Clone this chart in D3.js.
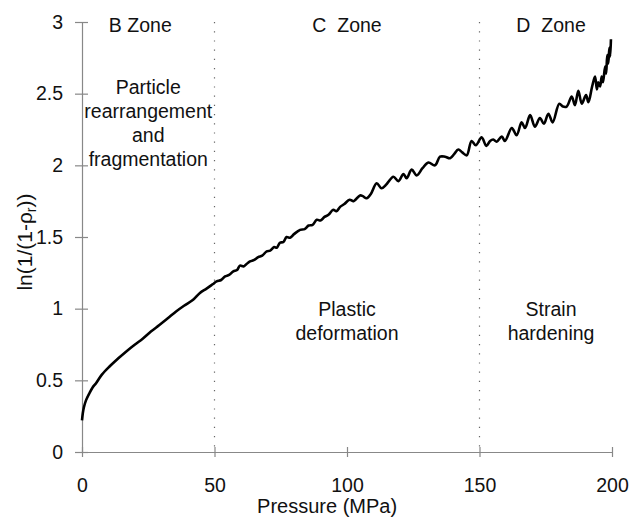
<!DOCTYPE html>
<html>
<head>
  <meta charset='utf-8'>
  <script src="https://d3js.org/d3.v7.min.js"></script>
  <style>
    body { margin: 0; background: #fff; }
    text { font-family: "Liberation Sans", Arial, sans-serif; }
  </style>
</head>
<body>
  <script type='text/javascript'>
    // Compaction curve
    var pressure = [0, 0.3, 0.7, 1.5, 2.8, 4, 5.3, 7.5, 10.3, 13.5, 16.6, 20, 22.9, 26, 29.2, 32.5, 35.5, 38.5,
      41.8, 44.5, 47, 49.3, 50.8, 52.5, 54, 55.5, 57.1, 58.5, 59.6, 61, 62, 63.4, 65, 66.5, 68, 69.7, 71,
      72.5, 73.5, 74.7, 76, 77.2, 78.5, 80, 82.3, 84, 85.5, 87, 88.6, 90, 91.5, 93, 94.8, 96, 97.4, 99,
      101, 102.5, 104.9, 106, 107.4, 109, 111.2, 113, 115, 117.5, 119.4, 121.3, 122.5, 124.4, 126.3,
      128.5, 130.7, 133.2, 135.1, 137, 138.9, 140.5, 142, 143.5, 145.2, 147, 148.6, 150.8, 152.6, 154,
      155.2, 156.5, 158.4, 159.6, 162.2, 164, 165.9, 167.2, 169.1, 170.9, 172.8, 174.3, 176, 177.6,
      180.1, 181.5, 182.9, 184.8, 186, 187.3, 188.6, 190.2, 191.1, 192.5, 193.6, 194.3, 194.8, 195.5,
      196.1, 196.6, 197.4, 197.8, 198.2, 198.6, 199, 199.3, 199.6];
    var lnValue = [0.22, 0.27, 0.31, 0.36, 0.41, 0.45, 0.48, 0.54, 0.595, 0.65, 0.70, 0.75, 0.79, 0.84, 0.886, 0.935, 0.98, 1.02,
      1.06, 1.11, 1.14, 1.17, 1.19, 1.20, 1.225, 1.235, 1.26, 1.27, 1.30, 1.295, 1.31, 1.33, 1.34, 1.36, 1.37, 1.40, 1.405,
      1.43, 1.425, 1.46, 1.465, 1.50, 1.495, 1.52, 1.55, 1.555, 1.58, 1.585, 1.62, 1.615, 1.64, 1.655, 1.69, 1.68, 1.71, 1.73,
      1.76, 1.75, 1.79, 1.785, 1.77, 1.80, 1.875, 1.84, 1.87, 1.92, 1.89, 1.94, 1.91, 1.97, 1.93,
      1.98, 2.02, 2.00, 2.06, 2.06, 2.05, 2.08, 2.11, 2.09, 2.07, 2.17, 2.14, 2.195, 2.135, 2.17,
      2.18, 2.165, 2.20, 2.17, 2.26, 2.21, 2.30, 2.26, 2.35, 2.27, 2.33, 2.29, 2.36, 2.30,
      2.43, 2.41, 2.41, 2.48, 2.42, 2.52, 2.43, 2.49, 2.44, 2.55, 2.62, 2.53, 2.58, 2.55,
      2.62, 2.58, 2.69, 2.64, 2.77, 2.71, 2.82, 2.76, 2.88];

    var xTicks = [0, 50, 100, 150, 200];
    var yTicks = [0, 0.5, 1, 1.5, 2, 2.5, 3];
    var zoneBounds = [50, 150];
    var zoneTitles = [
      {x: 22, label: 'B Zone'},
      {x: 100, label: 'C  Zone'},
      {x: 177, label: 'D  Zone'}
    ];
    var zoneNotes = [
      {x: 25, y: 2.5, lines: ['Particle', 'rearrangement', 'and', 'fragmentation']},
      {x: 100, y: 0.95, lines: ['Plastic', 'deformation']},
      {x: 177, y: 0.95, lines: ['Strain', 'hardening']}
    ];

    var margin = {top: 22, right: 19, bottom: 66, left: 82},
      width = 631 - margin.left - margin.right,
      height = 518 - margin.top - margin.bottom;

    var svg = d3.select('body')
      .append('svg')
      .attr('width', 631)
      .attr('height', 518)
      .append('g')
      .attr('transform', 'translate(' + margin.left + ',' + margin.top + ')');

    var x = d3.scaleLinear().domain([0, 200]).range([0, width]);
    var y = d3.scaleLinear().domain([0, 3]).range([height, 0]);

    // dotted zone separators
    svg.selectAll('.zone-line')
      .data(zoneBounds)
      .enter().append('line')
      .attr('x1', function(d) { return x(d); })
      .attr('x2', function(d) { return x(d); })
      .attr('y1', 0)
      .attr('y2', height)
      .style('stroke', '#666')
      .style('stroke-width', 1.2)
      .style('stroke-dasharray', '1.2,8');

    // y axis
    var yAxis = svg.append('g')
      .call(d3.axisLeft(y).tickValues(yTicks).tickFormat(d3.format('')).tickSizeInner(7).tickSizeOuter(0).tickPadding(12));
    yAxis.selectAll('.tick line').attr('x1', 6);

    // x axis
    var xAxis = svg.append('g')
      .attr('transform', 'translate(0,' + height + ')')
      .call(d3.axisBottom(x).tickValues(xTicks).tickSizeInner(5).tickSizeOuter(0));
    xAxis.selectAll('.tick line').attr('y1', -5);
    xAxis.selectAll('.tick text').attr('y', 39.5).attr('dy', 0);

    svg.selectAll('.domain, .tick line').style('stroke', '#888').style('stroke-width', 1.2);
    svg.selectAll('.tick text').style('font-size', '19.5px').style('fill', '#111')
      .style('font-family', '"Liberation Sans", Arial, sans-serif');

    // curve
    var points = pressure.map(function(p, i) { return [p, lnValue[i]]; });
    svg.append('path')
      .datum(points)
      .attr('d', d3.line().curve(d3.curveCatmullRom.alpha(0.5))
        .x(function(d) { return x(d[0]); }).y(function(d) { return y(d[1]); }))
      .style('fill', 'none')
      .style('stroke', '#000')
      .style('stroke-width', 2.6)
      .style('stroke-linejoin', 'round');

    // zone titles
    svg.selectAll('.zone-title')
      .data(zoneTitles)
      .enter().append('text')
      .attr('x', function(d) { return x(d.x); })
      .attr('y', 10)
      .attr('text-anchor', 'middle')
      .style('font-size', '19.5px')
      .style('white-space', 'pre')
      .style('fill', '#111')
      .text(function(d) { return d.label; });

    // zone notes
    zoneNotes.forEach(function(n) {
      var t = svg.append('text')
        .attr('x', x(n.x))
        .attr('y', y(n.y))
        .attr('text-anchor', 'middle')
        .style('font-size', '19.5px')
        .style('fill', '#111');
      n.lines.forEach(function(line, i) {
        t.append('tspan').attr('x', x(n.x)).attr('dy', i === 0 ? 0 : 24).text(line);
      });
    });

    // axis titles
    svg.append('text')
      .attr('x', x(92.5))
      .attr('y', height + 61)
      .attr('text-anchor', 'middle')
      .style('font-size', '20px')
      .style('fill', '#111')
      .text('Pressure (MPa)');

    var yTitle = svg.append('text')
      .attr('transform', 'translate(' + (-50) + ',' + y(1.465) + ') rotate(-90)')
      .attr('text-anchor', 'middle')
      .style('font-size', '21px')
      .style('fill', '#111');
    yTitle.append('tspan').text('ln(1/(1-ρ');
    yTitle.append('tspan').attr('dy', 4).style('font-size', '14px').text('r');
    yTitle.append('tspan').attr('dy', -4).text('))');
  </script>
</body>
</html>
